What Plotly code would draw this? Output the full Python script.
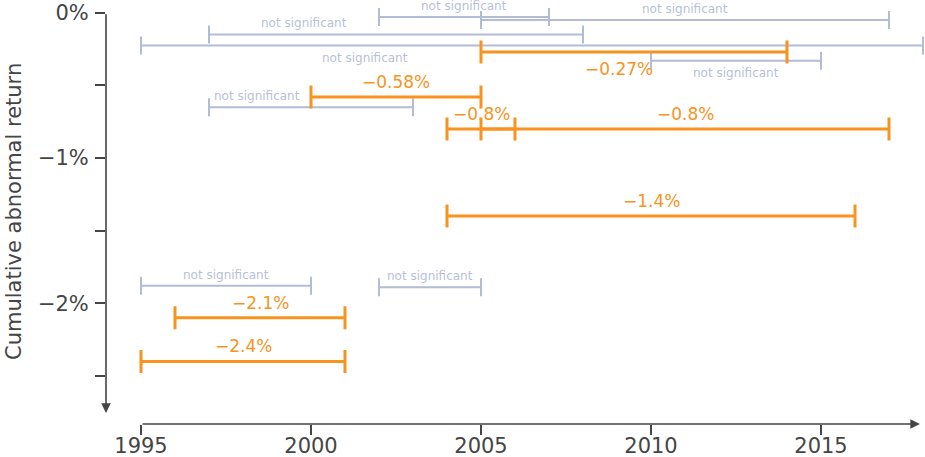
import plotly.graph_objects as go

# Event windows that are not statistically significant
gray_start = [2002, 2005, 1997, 1995, 2010, 1997, 1995, 2002]
gray_end = [2007, 2017, 2008, 2018, 2015, 2003, 2000, 2005]
gray_car = [-0.03, -0.05, -0.15, -0.225, -0.33, -0.65, -1.88, -1.89]
gray_label_year = [2004.5, 2011, 1999.8, 2001.6, 2012.5, 1998.4, 1997.5, 2003.5]
gray_label_side = ["above", "above", "above", "below", "below", "above", "above", "above"]

# Significant event windows with their cumulative abnormal return (%)
sig_start = [2005, 2000, 2004, 2005, 2004, 1996, 1995]
sig_end = [2014, 2005, 2006, 2017, 2016, 2001, 2001]
sig_car = [-0.27, -0.58, -0.8, -0.8, -1.4, -2.1, -2.4]
sig_label = ["−0.27%", "−0.58%", "−0.8%", "−0.8%", "−1.4%", "−2.1%", "−2.4%"]
sig_label_year = [2009.05, 2002.5, 2005, 2011, 2010, 1998.5, 1998]
sig_label_side = ["below", "above", "above", "above", "above", "above", "above"]

x_ticks = [1995, 2000, 2005, 2010, 2015]
y_ticks = [0, -0.5, -1, -1.5, -2, -2.5]
y_ticktext = ["0%", "", "−1%", "", "−2%", ""]

ORANGE = "#f7931e"
GRAY = "#b3bcd6"
GRAY_TEXT = "#b8c0d9"
AXIS = "#454545"
FONT = "DejaVu Sans"


def interval_trace(starts, ends, vals, color, thickness, cap):
    mids = [(a + b) / 2 for a, b in zip(starts, ends)]
    halves = [(b - a) / 2 for a, b in zip(starts, ends)]
    return go.Scatter(
        x=mids, y=vals, mode="markers",
        marker=dict(size=1, color="rgba(0,0,0,0)"),
        error_x=dict(type="data", array=halves, symmetric=True,
                     color=color, thickness=thickness, width=cap),
        hoverinfo="skip", showlegend=False, cliponaxis=False,
    )


fig = go.Figure()
fig.add_trace(interval_trace(gray_start, gray_end, gray_car, GRAY, 2, 9))
fig.add_trace(interval_trace(sig_start, sig_end, sig_car, ORANGE, 3, 11.5))

annotations = []
for yr, v, side in zip(gray_label_year, gray_car, gray_label_side):
    annotations.append(dict(
        x=yr, y=v, xref="x", yref="y", text="not significant", showarrow=False,
        font=dict(family=FONT, size=12, color=GRAY_TEXT),
        yshift=11 if side == "above" else -12.5,
    ))
for yr, v, txt, side in zip(sig_label_year, sig_car, sig_label, sig_label_side):
    annotations.append(dict(
        x=yr, y=v, xref="x", yref="y", text=txt, showarrow=False,
        font=dict(family=FONT, size=17, color=ORANGE),
        yshift=15 if side == "above" else -17,
    ))

# Axis spines with arrowheads
annotations.append(dict(
    xref="paper", yref="y", x=0, y=-2.755,
    axref="pixel", ayref="y", ax=0, ay=0,
    showarrow=True, arrowhead=2, arrowsize=1.2, arrowwidth=1.6,
    arrowcolor=AXIS, text="",
))
annotations.append(dict(
    xref="x", yref="paper", x=2017.91, y=0,
    axref="x", ayref="pixel", ax=1995, ay=0,
    showarrow=True, arrowhead=2, arrowsize=1.2, arrowwidth=1.6,
    arrowcolor=AXIS, text="",
))

# Y axis title
annotations.append(dict(
    xref="paper", yref="paper", x=(14 - 106) / 819, y=0.5,
    xanchor="center", yanchor="middle",
    text="Cumulative abnormal return", textangle=-90, showarrow=False,
    font=dict(family=FONT, size=21, color=AXIS),
))

fig.update_layout(
    width=925, height=457,
    margin=dict(l=106, r=0, t=0, b=33, autoexpand=False),
    paper_bgcolor="white", plot_bgcolor="white",
    showlegend=False,
    annotations=annotations,
    xaxis=dict(
        range=[1995 - 35 / 34, 1995 + 784 / 34],
        tickvals=x_ticks, ticktext=[str(t) for t in x_ticks],
        ticks="outside", ticklen=10, tickwidth=1.5, tickcolor=AXIS,
        ticklabelstandoff=-7,
        showgrid=False, zeroline=False, showline=False, automargin=False,
        tickfont=dict(family=FONT, size=21, color=AXIS),
    ),
    yaxis=dict(
        range=[-2.831, 0.0874],
        tickvals=y_ticks, ticktext=y_ticktext,
        ticks="outside", ticklen=10, tickwidth=1.5, tickcolor=AXIS,
        ticklabelstandoff=2, automargin=False,
        showgrid=False, zeroline=False, showline=False,
        tickfont=dict(family=FONT, size=21, color=AXIS),
    ),
)

fig.write_html("out.html")
